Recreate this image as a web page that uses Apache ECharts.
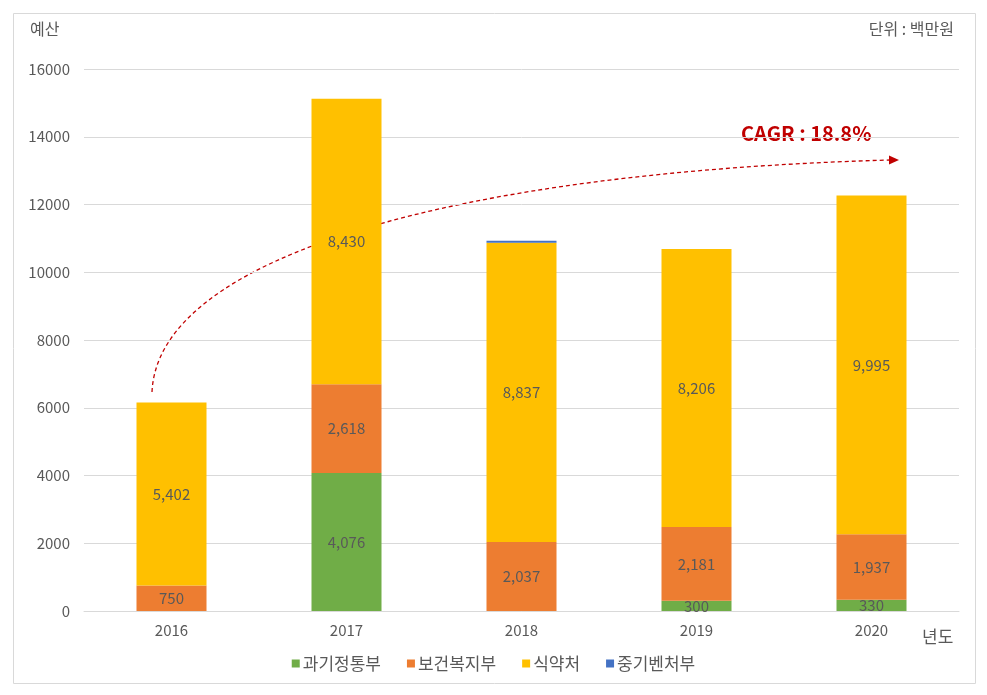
<!DOCTYPE html>
<html><head><meta charset="utf-8">
<script src="https://cdn.jsdelivr.net/npm/echarts@6/dist/echarts.min.js"></script>
<style>html,body{margin:0;padding:0;background:#fff}#c{width:987px;height:695px}</style>
</head><body><div id="c"></div>
<script>
const years = ['2016','2017','2018','2019','2020'];
const msit = [0, 4076, 0, 300, 330];
const mohw = [750, 2618, 2037, 2181, 1937];
const mfds = [5402, 8430, 8837, 8206, 9995];
const mss = [0, 0, 55, 0, 0];
const seriesNames = ['과기정통부','보건복지부','식약처','중기벤처부'];
const colors = ['#70AD47','#ED7D31','#FFC000','#4472C4'];
const yTicks = [0,2000,4000,6000,8000,10000,12000,14000,16000];
const font = '"Noto Sans CJK KR", "Noto Sans", sans-serif';

const chart = echarts.init(document.getElementById('c'), null, {renderer:'canvas'});
function mk(name, data, color, showLabel) {
  return {
    name, type:'bar', stack:'s', data, barWidth:'40%',
    itemStyle:{color},
    label:{show:showLabel, position:'inside', color:'#595959', fontSize:15, fontFamily:font,
      formatter: p => p.value ? p.value.toLocaleString('en-US') : ''}
  };
}
chart.setOption({
  animation:false,
  textStyle:{fontFamily:font},
  grid:{left:84, right:28, top:69, bottom:84, containLabel:false},
  xAxis:{type:'category', data:years,
    axisLine:{lineStyle:{color:'#d9d9d9'}}, axisTick:{show:false},
    axisLabel:{color:'#595959', fontSize:15, margin:12, fontFamily:font}},
  yAxis:{type:'value', min:yTicks[0], max:yTicks[yTicks.length-1], interval:yTicks[1]-yTicks[0],
    axisLine:{show:false}, axisTick:{show:false},
    splitLine:{lineStyle:{color:'#d9d9d9'}},
    axisLabel:{color:'#595959', fontSize:15, margin:14, fontFamily:font, formatter: v => String(v)}},
  legend:{bottom:18, left:'center', itemWidth:8, itemHeight:8, itemGap:26,
    icon:'rect', textStyle:{color:'#595959', fontSize:17, fontFamily:font, padding:[0,0,0,-2]}},
  series:[
    mk(seriesNames[0], msit, colors[0], true),
    mk(seriesNames[1], mohw, colors[1], true),
    mk(seriesNames[2], mfds, colors[2], true),
    mk(seriesNames[3], mss, colors[3], false)
  ],
  graphic:[
    {type:'rect', shape:{x:13.5,y:13.5,width:962,height:670}, style:{fill:null, stroke:'#d9d9d9', lineWidth:1}, silent:true, z:-1},
    {type:'text', left:30, top:21, style:{text:'예산', fill:'#595959', font:'16px '+font}},
    {type:'text', right:33, top:21, style:{text:'단위 : 백만원', fill:'#595959', font:'16px '+font}},
    {type:'text', left:922, top:628, style:{text:'년도', fill:'#595959', font:'17px '+font}},
    {type:'text', left:741, top:123, style:{text:'CAGR : 18.8%', fill:'#C00000', font:'bold 20px '+font}},
    {type:'bezierCurve', shape:{x1:152,y1:392,cpx1:158,cpy1:255,cpx2:460,cpy2:172,x2:890,y2:160},
      style:{stroke:'#C00000', lineWidth:1.3, lineDash:[4,3], fill:null}},
    {type:'polygon', shape:{points:[[899,160],[889,155.5],[889,164.5]]}, style:{fill:'#C00000'}}
  ]
});
</script></body></html>
